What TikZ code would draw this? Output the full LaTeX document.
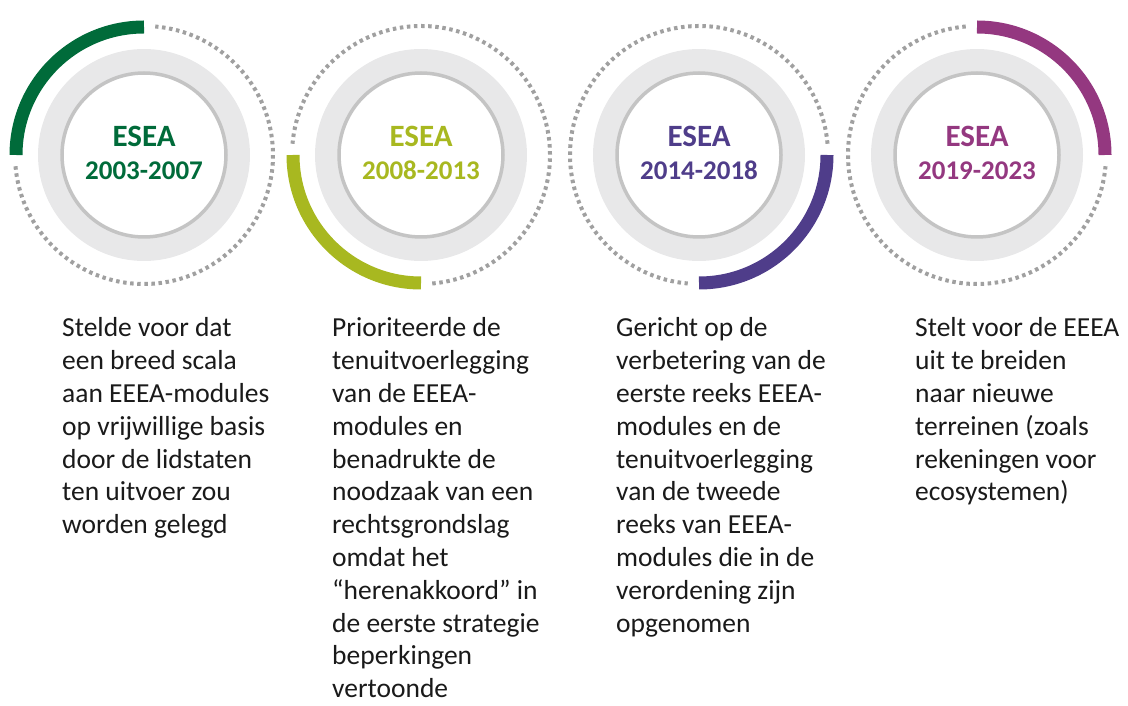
\documentclass[tikz,border=0pt]{standalone}
\usepackage{fontspec}
\setmainfont{Carlito}
\definecolor{cgreen}{HTML}{006B3A}
\definecolor{cyellow}{HTML}{A8B820}
\definecolor{cpurple}{HTML}{4F3D8A}
\definecolor{cmagenta}{HTML}{943880}
\definecolor{ringgray}{HTML}{E8E8E9}
\definecolor{bordergray}{HTML}{C4C4C4}
\definecolor{dotgray}{HTML}{A0A0A0}
\definecolor{txt}{HTML}{1A1A1A}
\newcommand{\bodytext}[1]{\parbox[t]{260pt}{\raggedright\fontsize{27.5}{32.8}\selectfont #1}}
\begin{document}
\begin{tikzpicture}[x=1pt,y=1pt,
 ring/.style={fill=ringgray, draw=none},
 core/.style={circle, fill=white, draw=bordergray, line width=3.5pt, minimum size=164pt, inner sep=0pt},
 dots/.style={draw=dotgray, line width=4pt, dash pattern=on 3.5pt off 3.6pt},
 band/.style={line width=13pt},
 title/.style={font=\bfseries\fontsize{31}{31}\selectfont, anchor=base, inner sep=0pt},
 years/.style={font=\bfseries\fontsize{27}{27}\selectfont, anchor=base, inner sep=0pt},
 body/.style={anchor=base west, inner sep=0pt, text=txt}]
\useasboundingbox (0,0) rectangle (1128,705);

% circle 1
\coordinate (c1) at (144,550);
\fill[ring] (c1) circle (106);
\node[core] (k1) at (c1) {};
\draw[dots] (c1) ++(185:129) arc (185:445:129);
\draw[band, cgreen] (c1) ++(90:128) arc (90:180:128);
\node[title, text=cgreen] (t1) at (144,558) {ESEA};
\node[years, text=cgreen] (y1) at (144,525) {2003-2007};

% circle 2
\coordinate (c2) at (421,550);
\fill[ring] (c2) circle (106);
\node[core] (k2) at (c2) {};
\draw[dots] (c2) ++(-85:129) arc (-85:175:129);
\draw[band, cyellow] (c2) ++(180:128) arc (180:270:128);
\node[title, text=cyellow] (t2) at (421,558) {ESEA};
\node[years, text=cyellow] (y2) at (421,525) {2008-2013};

% circle 3
\coordinate (c3) at (699,550);
\fill[ring] (c3) circle (106);
\node[core] (k3) at (c3) {};
\draw[dots] (c3) ++(5:129) arc (5:265:129);
\draw[band, cpurple] (c3) ++(-90:128) arc (-90:0:128);
\node[title, text=cpurple] (t3) at (699,558) {ESEA};
\node[years, text=cpurple] (y3) at (699,525) {2014-2018};

% circle 4
\coordinate (c4) at (977,550);
\fill[ring] (c4) circle (106);
\node[core] (k4) at (c4) {};
\draw[dots] (c4) ++(95:129) arc (95:355:129);
\draw[band, cmagenta] (c4) ++(0:128) arc (0:90:128);
\node[title, text=cmagenta] (t4) at (977,558) {ESEA};
\node[years, text=cmagenta] (y4) at (977,525) {2019-2023};

% descriptions
\node[body] (d1) at (62,368) {\bodytext{Stelde voor dat\\een breed scala\\aan EEEA-modules\\op vrijwillige basis\\door de lidstaten\\ten uitvoer zou\\worden gelegd}};
\node[body] (d2) at (332,368) {\bodytext{Prioriteerde de\\tenuitvoerlegging\\van de EEEA-\\modules en\\benadrukte de\\noodzaak van een\\rechtsgrondslag\\omdat het\\“herenakkoord” in\\de eerste strategie\\beperkingen\\vertoonde}};
\node[body] (d3) at (616,368) {\bodytext{Gericht op de\\verbetering van de\\eerste reeks EEEA-\\modules en de\\tenuitvoerlegging\\van de tweede\\reeks van EEEA-\\modules die in de\\verordening zijn\\opgenomen}};
\node[body] (d4) at (915,368) {\bodytext{Stelt voor de EEEA\\uit te breiden\\naar nieuwe\\terreinen (zoals\\rekeningen voor\\ecosystemen)}};
\end{tikzpicture}
\end{document}
